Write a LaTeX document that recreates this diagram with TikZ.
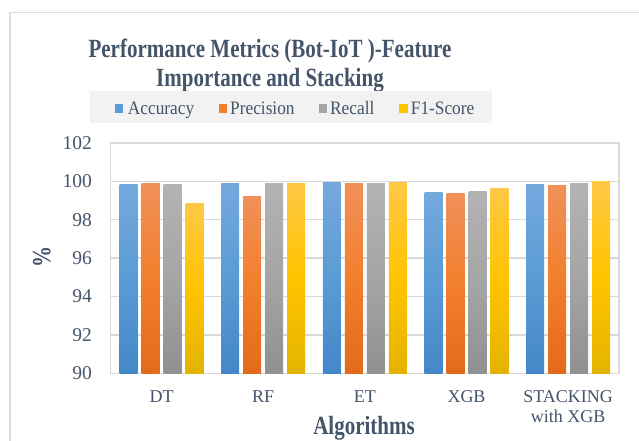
\documentclass[tikz,border=0pt]{standalone}
\usepackage{fontspec}
\usepackage{graphicx}
\setmainfont{Liberation Serif}
\definecolor{txt}{HTML}{44546A}
\definecolor{gridc}{HTML}{D9D9D9}
\definecolor{framec}{HTML}{D9DEE4}
\definecolor{legbg}{HTML}{F2F2F2}
\definecolor{blueT}{HTML}{74A9DD}
\definecolor{blueM}{HTML}{5B9BD5}
\definecolor{blueB}{HTML}{4487C8}
\definecolor{oraT}{HTML}{F1905A}
\definecolor{oraM}{HTML}{F27F2C}
\definecolor{oraB}{HTML}{E36A1C}
\definecolor{grayT}{HTML}{B3B3B3}
\definecolor{grayM}{HTML}{A5A5A5}
\definecolor{grayB}{HTML}{909090}
\definecolor{yelT}{HTML}{FFC845}
\definecolor{yelM}{HTML}{FFC400}
\definecolor{yelB}{HTML}{E4B300}
\tikzset{
  barA/.style={top color=blueT,bottom color=blueB,middle color=blueM},
  barP/.style={top color=oraT,bottom color=oraB,middle color=oraM},
  barR/.style={top color=grayT,bottom color=grayB,middle color=grayM},
  barF/.style={top color=yelT,bottom color=yelB,middle color=yelM},
  gridline/.style={draw=gridc,line width=1.4pt},
  ticklab/.style={text=txt,inner sep=0pt,font=\fontsize{19.5}{22}\selectfont},
  xlab/.style={text=txt,inner sep=0pt,font=\fontsize{18}{21}\selectfont},
  leglab/.style={text=txt,inner sep=0pt,anchor=base west,font=\fontsize{17.3}{20}\selectfont},
  titlelab/.style={text=txt,inner sep=0pt,anchor=base,font=\bfseries\fontsize{21}{25}\selectfont},
}
% tall lettering used by the titles and legend
\newcommand{\tallA}[1]{\scalebox{1}[1.25]{#1}}
\newcommand{\tallB}[1]{\scalebox{1}[1.1]{#1}}
% one bar: style, left x, value (axis 90..102)
\newcommand{\chartbar}[3]{%
  \pgfmathsetmacro\ytop{373.3-(#3-90)*19.2}%
  \shade[#1] (#2,\ytop) rectangle ({#2+18},373.3);}
\begin{document}
\begin{tikzpicture}[x=1pt,y=-1pt]
\useasboundingbox (0,0) rectangle (639,440);
\clip (0,0) rectangle (639,440);
\fill[white] (0,0) rectangle (639,440);
% chart frame
\draw[framec,line width=1.3pt] (10,12.7) rectangle (680,480);

% title
\node[titlelab] (t1) at (270,57) {\tallA{Performance Metrics (Bot-IoT )-Feature}};
\node[titlelab] (t2) at (270,86) {\tallA{Importance and Stacking}};

% legend
\fill[legbg] (90,90.7) rectangle (492,122.7);
\fill[blueM] (114.7,103.5) rectangle (123.3,112.5);
\node[leglab] (lA) at (127.7,114) {\tallB{Accuracy}};
\fill[oraM] (218.5,103.5) rectangle (227,112.5);
\node[leglab] (lP) at (230,114) {\tallB{Precision}};
\fill[grayM] (318.5,103.5) rectangle (327,112.5);
\node[leglab] (lR) at (330,114) {\tallB{Recall}};
\fill[yelM] (399,103.5) rectangle (407.5,112.5);
\node[leglab] (lF) at (410.7,114) {\tallB{F1-Score}};

% gridlines and plot frame
\foreach \v in {92,94,96,98,100}{
  \pgfmathsetmacro\yy{373.3-(\v-90)*19.2}
  \draw[gridline] (110.7,\yy) -- (619,\yy);
}
\draw[gridline] (110.7,142.9) rectangle (619,373.3);

% y tick labels
\foreach \v in {90,92,...,102}{
  \pgfmathsetmacro\yy{373.3-(\v-90)*19.2}
  \node[ticklab,anchor=east] (y\v) at (92,\yy) {\v};
}

% bars
\foreach \a/\p/\r/\f [count=\i from 0] in
  {99.81/99.91/99.81/98.87, 99.91/99.23/99.91/99.91, 99.96/99.91/99.91/99.96,
   99.44/99.34/99.49/99.65, 99.81/99.79/99.86/100.0}{
  \pgfmathsetmacro\gx{119.55+\i*101.66}
  \chartbar{barA}{\gx}{\a}
  \chartbar{barP}{\gx+22}{\p}
  \chartbar{barR}{\gx+44}{\r}
  \chartbar{barF}{\gx+66}{\f}
}

% x tick labels
\node[xlab,anchor=base] (xDT) at (161.5,402) {DT};
\node[xlab,anchor=base] (xRF) at (263.2,402) {RF};
\node[xlab,anchor=base] (xET) at (364.8,402) {ET};
\node[xlab,anchor=base] (xXGB) at (466.5,402) {XGB};
\node[xlab,anchor=base] (xST) at (568.2,402) {STACKING};
\node[xlab,anchor=base] (xST2) at (568.2,422) {with XGB};

% axis titles
\node[text=txt,inner sep=0pt,rotate=90,font=\bfseries\fontsize{21}{25}\selectfont] (ytitle) at (41.7,256.7) {\tallA{\%}};
\node[titlelab] (xtitle) at (364,434) {\tallA{Algorithms}};
\end{tikzpicture}
\end{document}
